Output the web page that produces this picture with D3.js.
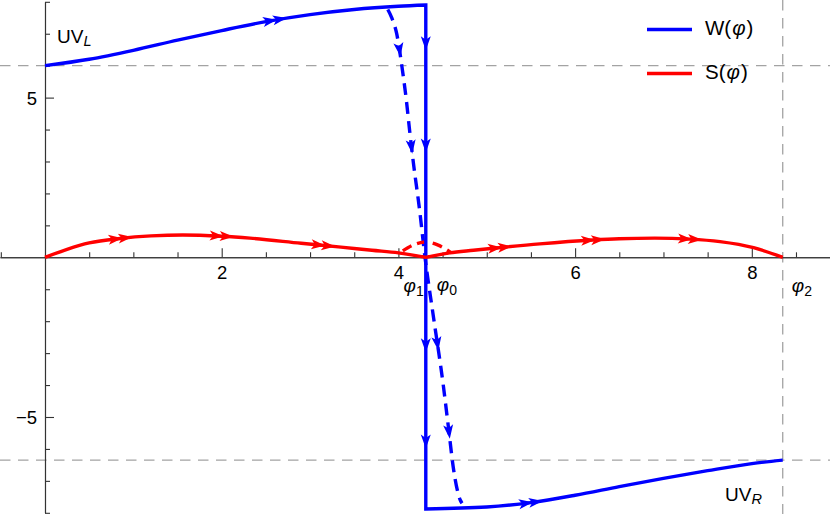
<!DOCTYPE html>
<meta charset="utf-8">
<style>
* { margin: 0; padding: 0; }
body { background: #fff; }
svg { display: block; font-family: "Liberation Sans", Arial, sans-serif; }
</style>
<body>
<script src="https://cdn.jsdelivr.net/npm/d3@7/dist/d3.min.js"></script>
<script>

// W(phi), solid branch left and right of phi0
var wUpperX = [0, 0.5, 1.0, 1.5, 2.0, 2.5, 3.0, 3.5, 4.0, 4.31];
var wUpperY = [6.0, 6.2, 6.48, 6.8, 7.1, 7.38, 7.6, 7.76, 7.86, 7.9];
var wLowerX = [4.31, 5.0, 5.5, 6.0, 6.5, 7.0, 7.5, 8.0, 8.35];
var wLowerY = [-7.88, -7.82, -7.68, -7.45, -7.18, -6.92, -6.68, -6.46, -6.35];

// W(phi), dashed branch
var wDashX = [3.88, 3.92, 3.98, 4.04, 4.09, 4.13, 4.17, 4.24, 4.30, 4.39, 4.51, 4.57, 4.62, 4.70, 4.72];
var wDashY = [7.76, 7.53, 7.01, 5.97, 4.92, 3.89, 2.95, 1.48, 0.02, -1.74, -4.05, -5.41, -6.56, -7.6, -7.7];

// S(phi), solid
var sLeftX = [0, 0.25, 0.5, 0.85, 1.2, 1.56, 2.0, 2.32, 2.9, 3.35, 3.7, 4.0, 4.31];
var sLeftY = [0, 0.25, 0.45, 0.59, 0.67, 0.70, 0.66, 0.60, 0.44, 0.32, 0.22, 0.14, 0];
var sRightX = [4.31, 4.58, 4.85, 5.1, 5.6, 6.2, 6.5, 6.9, 7.3, 7.64, 8.02, 8.35];
var sRightY = [0, 0.14, 0.22, 0.29, 0.42, 0.54, 0.58, 0.60, 0.57, 0.49, 0.30, 0];

// S(phi), dashed
var sDashX = [4.05, 4.18, 4.31, 4.45, 4.6];
var sDashY = [0.2, 0.4, 0.48, 0.38, 0.14];

// arrows
var wArrowX = [2.6, 5.5];
var wDropY = [6.7, 3.5, -2.75, -5.77];
var wDashArrowY = [6.5, 3.46, -2.7, -5.46];
var sArrowX = [0.85, 2.0, 3.15, 5.15, 6.2, 7.3];

// special points
var phi0 = 4.31, phi2 = 8.35;
var uvL = 6.0, uvR = -6.35;

var xMajor = [2, 4, 6, 8];
var yMajor = [-5, 5];

var width = 830, height = 514;

var x = d3.scaleLinear().domain([-0.5093, 8.885]).range([0, width]);
var y = d3.scaleLinear().domain([-8, 8]).range([512.8, 1.8]);

var svg = d3.select("body").append("svg")
    .attr("width", width)
    .attr("height", height);

// reference dashed lines
var grey = svg.append("g")
    .attr("stroke", "#a3a3a3")
    .attr("stroke-width", 1.3)
    .attr("stroke-dasharray", "10.5,7.5");

grey.append("line").attr("x1", 0).attr("x2", width).attr("y1", y(uvL)).attr("y2", y(uvL));
grey.append("line").attr("x1", 0).attr("x2", width).attr("y1", y(uvR)).attr("y2", y(uvR));
grey.append("line").attr("x1", x(phi2)).attr("x2", x(phi2)).attr("y1", 0).attr("y2", height);

// axes
function styleAxis(g) {
    g.attr("font-family", null).attr("font-size", null);
    g.select(".domain").attr("stroke", "#333").attr("stroke-width", 1.1);
    g.selectAll(".tick line").attr("stroke", "#333").attr("stroke-width", 1.1);
}

var xMinor = d3.range(-0.5, 8.9, 0.5).filter(function(v) { return v !== 0 && xMajor.indexOf(v) < 0; });
var yMinor = d3.range(-8, 8.1, 1).filter(function(v) { return v !== 0 && yMajor.indexOf(v) < 0; });

var gx = svg.append("g").attr("transform", "translate(0," + y(0) + ")");
gx.append("g").call(d3.axisTop(x).tickValues(xMinor).tickSize(5).tickSizeOuter(0).tickFormat(""))
    .call(styleAxis);
gx.append("g").call(d3.axisTop(x).tickValues(xMajor).tickSize(9).tickSizeOuter(0).tickFormat(d3.format("d")))
    .call(styleAxis)
    .selectAll(".tick text")
        .attr("y", 22)
        .attr("dy", null)
        .attr("fill", "#000")
        .attr("font-size", "18.5px");

var gy = svg.append("g").attr("transform", "translate(" + x(0) + ",0)");
gy.append("g").call(d3.axisRight(y).tickValues(yMinor).tickSize(5).tickSizeOuter(0).tickFormat(""))
    .call(styleAxis);
gy.append("g").call(d3.axisRight(y).tickValues(yMajor).tickSize(9).tickSizeOuter(0)
        .tickFormat(function(d) { return d < 0 ? "\u2212" + Math.abs(d) : d; }))
    .call(styleAxis)
    .selectAll(".tick text")
        .attr("x", -8)
        .attr("dy", "0.36em")
        .attr("text-anchor", "end")
        .attr("fill", "#000")
        .attr("font-size", "18.5px");

// curves
var line = d3.line()
    .x(function(d) { return x(d[0]); })
    .y(function(d) { return y(d[1]); })
    .curve(d3.curveMonotoneX);

function pts(xs, ys) { return xs.map(function(v, i) { return [v, ys[i]]; }); }

var blue = "#0000ff", red = "#ff0000";

var wDash = svg.append("path")
    .attr("d", line(pts(wDashX, wDashY)))
    .attr("fill", "none").attr("stroke", blue).attr("stroke-width", 3.4)
    .attr("stroke-dasharray", "12,7");

var sDash = svg.append("path")
    .attr("d", line(pts(sDashX, sDashY)))
    .attr("fill", "none").attr("stroke", red).attr("stroke-width", 3.4)
    .attr("stroke-dasharray", "10,6");

var wSolid = svg.append("path")
    .attr("d", line(pts(wUpperX, wUpperY)) + line(pts(wLowerX, wLowerY)).replace(/^M/, "L"))
    .attr("fill", "none").attr("stroke", blue).attr("stroke-width", 3.4)
    .attr("stroke-linejoin", "miter");

var sSolid = svg.append("path")
    .attr("d", line(pts(sLeftX, sLeftY)) + line(pts(sRightX, sRightY)).replace(/^M/, "L"))
    .attr("fill", "none").attr("stroke", red).attr("stroke-width", 3.4);

// arrowheads
function placeOnPath(node, key, target) {
    var L = node.getTotalLength(), best = 0, bd = Infinity;
    for (var l = 0; l <= L; l += 0.5) {
        var p = node.getPointAtLength(l);
        var d = Math.abs(p[key] - target);
        if (d < bd) { bd = d; best = l; }
    }
    var a = node.getPointAtLength(Math.max(0, best - 3)),
        b = node.getPointAtLength(Math.min(L, best + 3)),
        p = node.getPointAtLength(best);
    return { x: p.x, y: p.y, angle: Math.atan2(b.y - a.y, b.x - a.x) * 180 / Math.PI };
}

var head = "M7,0L-7,-5L-3.5,0L-7,5Z";

function arrow(pos, color, double) {
    var g = svg.append("g")
        .attr("transform", "translate(" + pos.x + "," + pos.y + ") rotate(" + pos.angle + ")")
        .attr("fill", color);
    if (double) {
        g.append("path").attr("d", head).attr("transform", "translate(5,0)");
        g.append("path").attr("d", head).attr("transform", "translate(-5,0)");
    } else {
        g.append("path").attr("d", head);
    }
}

wArrowX.forEach(function(v) { arrow(placeOnPath(wSolid.node(), "x", x(v)), blue, true); });
wDropY.forEach(function(v) { arrow({ x: x(phi0), y: y(v), angle: 90 }, blue, false); });
wDashArrowY.forEach(function(v) { arrow(placeOnPath(wDash.node(), "y", y(v)), blue, false); });
sArrowX.forEach(function(v) { arrow(placeOnPath(sSolid.node(), "x", x(v)), red, true); });

// labels
function phiLabel(px, py, sub, anchor) {
    var t = svg.append("text").attr("x", px).attr("y", py)
        .attr("font-size", "19px").attr("text-anchor", anchor);
    t.append("tspan").attr("font-style", "italic").text("\u03c6");
    t.append("tspan").attr("font-size", "14px").attr("dy", 4).text(sub);
}
phiLabel(x(phi0) - 2, 292, "1", "end");
phiLabel(x(phi0) + 11, 291, "0", "start");
phiLabel(x(phi2) + 9, 292, "2", "start");

function uvLabel(px, py, sub) {
    var t = svg.append("text").attr("x", px).attr("y", py).attr("font-size", "19px");
    t.append("tspan").text("UV");
    t.append("tspan").attr("font-size", "14.5px").attr("font-style", "italic").attr("dy", 3).text(sub);
}
uvLabel(57, 43, "L");
uvLabel(725, 501, "R");

// legend
var legend = [
    { name: "W", color: blue, y: 29.5 },
    { name: "S", color: red, y: 73.5 }
];
legend.forEach(function(d) {
    svg.append("line")
        .attr("x1", 647).attr("x2", 692).attr("y1", d.y).attr("y2", d.y)
        .attr("stroke", d.color).attr("stroke-width", 3.3);
    var t = svg.append("text").attr("x", 705).attr("y", d.y + 5.5).attr("font-size", "20.5px");
    t.append("tspan").text(d.name + "(");
    t.append("tspan").attr("font-style", "italic").attr("dx", 1).text("\u03c6");
    t.append("tspan").attr("dx", 1).text(")");
});

</script>
